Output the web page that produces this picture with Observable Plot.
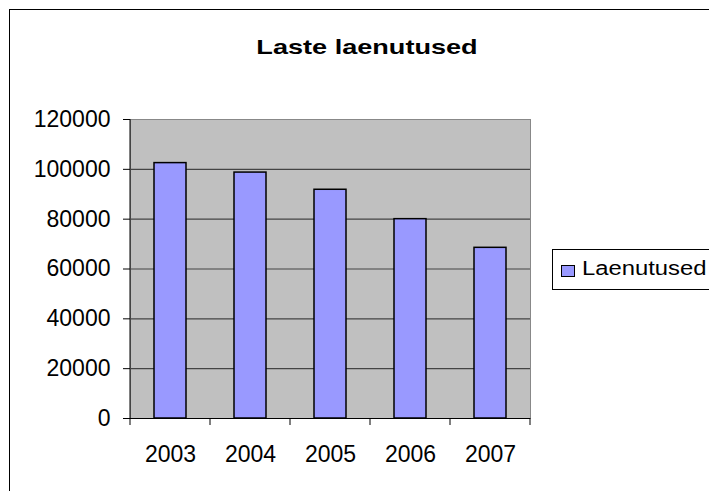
<!DOCTYPE html>
<html>
<head>
<meta charset="utf-8">
<script src="https://cdn.jsdelivr.net/npm/d3@7"></script>
<script src="https://cdn.jsdelivr.net/npm/@observablehq/plot@0.6"></script>
<style>
  html, body { margin: 0; padding: 0; background: #fff; }
  body { width: 709px; height: 491px; overflow: hidden; position: relative; font-family: "Liberation Sans", Arial, sans-serif; }
  #border { position: absolute; left: 9px; top: 9px; width: 1000px; height: 1000px; border: 1px solid #000; box-sizing: border-box; }
  #title { position: absolute; left: 367px; top: 36px; font-size: 21px; line-height: 1; font-weight: bold; color: #000; white-space: nowrap; transform: translateX(-50%) scaleX(1.29); }
  #chart { position: absolute; left: 0; top: 80px; }
  #legend { position: absolute; left: 552px; top: 249px; width: 200px; height: 41px; border: 1px solid #000; box-sizing: border-box; background: #fff; }
  #swatch { position: absolute; left: 8px; top: 15px; width: 12px; height: 10px; background: #9999ff; border: 1px solid #000; }
  #ltext { position: absolute; left: 29px; top: 8px; font-size: 20px; line-height: 1; color: #000; white-space: nowrap; transform-origin: left center; transform: scaleX(1.19); }
</style>
</head>
<body>
<div id="border"></div>
<div id="title">Laste laenutused</div>
<div id="chart"></div>
<div id="legend"><div id="swatch"></div><div id="ltext">Laenutused</div></div>
<script>
const years = ["2003", "2004", "2005", "2006", "2007"];
const laenutused = [102500, 98700, 91800, 80000, 68500];
const yTicks = [0, 20000, 40000, 60000, 80000, 100000, 120000];
const gridLines = [20000, 40000, 60000, 80000, 100000];
const seriesName = "Laenutused";

const data = years.map((y, i) => ({year: y, value: laenutused[i]}));

// category boundary ticks below the x axis plus the left axis line
function categoryTicks(index, scales, values, dims) {
  const x = scales.x;
  const step = x.step();
  const bw = x.bandwidth();
  const y0 = dims.height - dims.marginBottom;
  const g = d3.create("svg:g");
  const bounds = years.map(d => x(d) + bw / 2 - step / 2);
  bounds.push(x(years[years.length - 1]) + bw / 2 + step / 2);
  g.selectAll("line.t").data(bounds).join("line")
    .attr("x1", d => d).attr("x2", d => d)
    .attr("y1", y0).attr("y2", y0 + 7)
    .attr("stroke", "#000");
  g.append("line")
    .attr("x1", dims.marginLeft).attr("x2", dims.marginLeft)
    .attr("y1", dims.marginTop).attr("y2", y0)
    .attr("stroke", "#000");
  return g.node();
}

const chart = Plot.plot({
  width: 709,
  height: 411,
  marginLeft: 130,
  marginRight: 179,
  marginTop: 39,
  marginBottom: 73,
  style: {fontFamily: "'Liberation Sans', Arial, sans-serif", fontSize: "23px", color: "#000", background: "transparent"},
  x: {domain: years, paddingInner: 0.6, paddingOuter: 0.3, label: null},
  y: {domain: [0, 120000], label: null},
  marks: [
    Plot.frame({fill: "#c0c0c0"}),
    Plot.ruleY(gridLines, {stroke: "#444", strokeWidth: 1.2}),
    Plot.frame({stroke: "#888"}),
    Plot.barY(data, {x: "year", y: "value", fill: "#9999ff", stroke: "#000", strokeWidth: 1.5}),
    Plot.ruleY([0], {stroke: "#000", strokeWidth: 1.2}),
    categoryTicks,
    Plot.axisY({ticks: yTicks, tickSize: 7, tickPadding: 13, tickFormat: d => String(d), fontSize: 23}),
    Plot.axisX({tickSize: 0, tickPadding: 27, fontSize: 23})
  ]
});
document.getElementById("chart").appendChild(chart);
</script>
</body>
</html>
